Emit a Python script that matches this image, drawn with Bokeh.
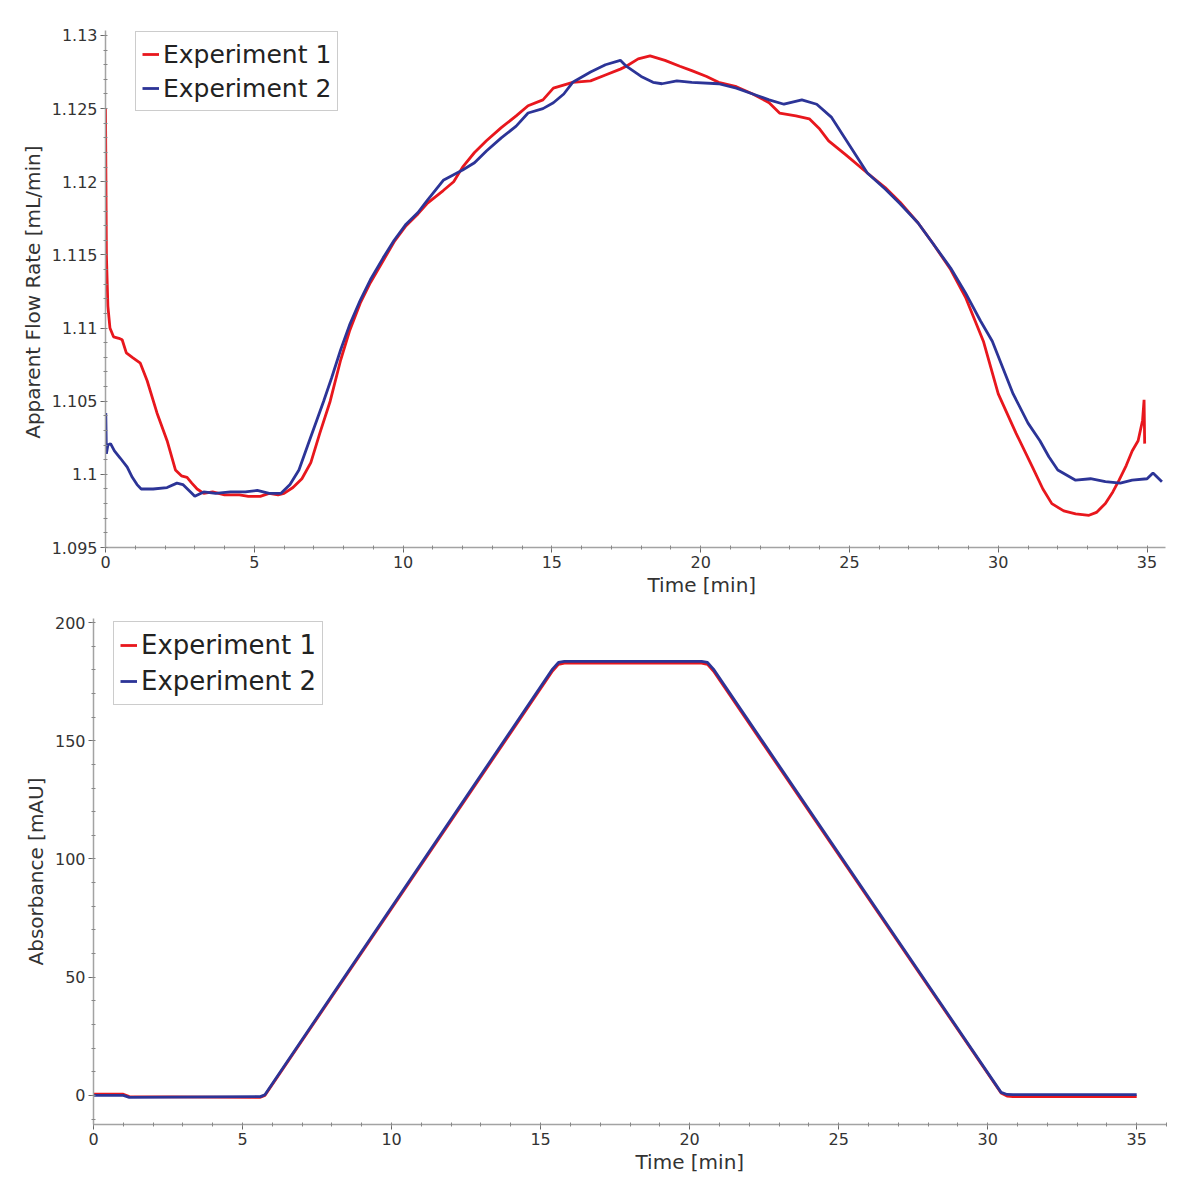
from bokeh.plotting import figure
from bokeh.layouts import column
from bokeh.models import (Range1d, SingleIntervalTicker, CustomJSTickFormatter, Title)
from bokeh.embed import file_html
from bokeh.resources import INLINE

# ---------------- data ----------------
# Top panel: apparent flow rate [mL/min] vs time [min]
t_flow_exp1 = [0.0, 0.03, 0.08, 0.15, 0.27, 0.45, 0.56, 0.7, 0.9, 1.17, 1.4, 1.73, 2.07, 2.35, 2.55,
               2.74, 2.9, 3.08, 3.3, 3.6, 4.0, 4.5, 4.8, 5.2, 5.5, 5.8, 6.0, 6.3, 6.6, 6.9,
               7.2, 7.55, 7.9, 8.2, 8.56, 8.9, 9.33, 9.7, 10.1, 10.5, 10.8, 11.35, 11.7, 12.0, 12.4,
               12.8, 13.3, 13.8, 14.2, 14.7, 15.05, 15.7, 16.3, 16.8, 17.3, 17.5, 17.9, 18.3, 18.8, 19.3,
               19.7, 20.2, 20.6, 21.2, 21.75, 22.3, 22.65, 23.2, 23.65, 24.0, 24.3, 24.9, 25.6, 26.2, 26.7,
               27.3, 27.8, 28.4, 28.9, 29.5, 30.0, 30.6, 31.15, 31.5, 31.8, 32.2, 32.6, 33.05, 33.3, 33.6,
               33.85, 34.06, 34.3, 34.5, 34.7, 34.85, 34.9, 34.92]
flow_exp1 = [1.1250, 1.1150, 1.1115, 1.1100, 1.1094, 1.1093, 1.1092, 1.1083, 1.1080, 1.1076,
             1.1064, 1.1042, 1.1023, 1.1003, 1.0999, 1.0998, 1.0994, 1.0990, 1.0987, 1.0988,
             1.0986, 1.0986, 1.0985, 1.0985, 1.0987, 1.0986, 1.0987, 1.0991, 1.0997, 1.1008,
             1.1028, 1.1050, 1.1078, 1.1098, 1.1117, 1.1131, 1.1146, 1.1159, 1.1170, 1.1178,
             1.1185, 1.1194, 1.1200, 1.1210, 1.1220, 1.1228, 1.1237, 1.1245, 1.1252, 1.1256,
             1.1264, 1.1268, 1.1269, 1.1273, 1.1277, 1.1279, 1.1284, 1.1286, 1.1283, 1.1279,
             1.1276, 1.1272, 1.1268, 1.1265, 1.1260, 1.1254, 1.1247, 1.1245, 1.1243, 1.1236,
             1.1228, 1.1218, 1.1206, 1.1196, 1.1186, 1.1172, 1.1158, 1.1140, 1.1121, 1.1091,
             1.1055, 1.1028, 1.1005, 1.0990, 1.0980, 1.0975, 1.0973, 1.0972, 1.0974, 1.0980,
             1.0988, 1.0996, 1.1006, 1.1016, 1.1023, 1.1037, 1.1051, 1.1021]

t_flow_exp2 = [0.0, 0.01, 0.03, 0.08, 0.17, 0.3, 0.5, 0.73, 0.9, 1.06, 1.2, 1.6, 2.07, 2.4, 2.6,
               2.9, 3.0, 3.3, 3.7, 4.2, 4.7, 5.1, 5.5, 5.9, 6.2, 6.5, 6.8, 7.1, 7.33, 7.6,
               7.9, 8.2, 8.56, 8.9, 9.33, 9.7, 10.1, 10.5, 10.8, 11.35, 12.0, 12.4, 12.8, 13.3, 13.8,
               14.2, 14.7, 15.05, 15.4, 15.7, 16.3, 16.8, 17.3, 17.5, 18.0, 18.4, 18.7, 19.2, 19.7, 20.6,
               21.2, 21.75, 22.3, 22.8, 23.4, 23.9, 24.4, 25.0, 25.6, 26.2, 26.7, 27.3, 27.8, 28.4, 28.9,
               29.4, 29.8, 30.5, 31.0, 31.4, 31.7, 32.0, 32.6, 33.1, 33.6, 34.1, 34.5, 35.0, 35.2, 35.5]
flow_exp2 = [1.1020, 1.1042, 1.1014, 1.1020, 1.1021, 1.1016, 1.1011, 1.1005, 1.0998, 1.0993,
             1.0990, 1.0990, 1.0991, 1.0994, 1.0993, 1.0987, 1.0985, 1.0988, 1.0987, 1.0988,
             1.0988, 1.0989, 1.0987, 1.0987, 1.0993, 1.1003, 1.1020, 1.1037, 1.1050, 1.1066,
             1.1085, 1.1102, 1.1119, 1.1133, 1.1148, 1.1160, 1.1171, 1.1179, 1.1187, 1.1201,
             1.1208, 1.1213, 1.1221, 1.1230, 1.1238, 1.1247, 1.1250, 1.1254, 1.1260, 1.1268,
             1.1275, 1.1280, 1.1283, 1.1279, 1.1272, 1.1268, 1.1267, 1.1269, 1.1268, 1.1267,
             1.1264, 1.1260, 1.1256, 1.1253, 1.1256, 1.1253, 1.1244, 1.1225, 1.1206, 1.1195,
             1.1185, 1.1172, 1.1158, 1.1141, 1.1124, 1.1105, 1.1091, 1.1055, 1.1035, 1.1023,
             1.1012, 1.1003, 1.0996, 1.0997, 1.0995, 1.0994, 1.0996, 1.0997, 1.1001, 1.0995]

# Bottom panel: absorbance [mAU] vs time [min]
t_abs = [0.0, 1.0, 1.2, 5.6, 5.75, 15.4, 15.6, 15.8, 20.4, 20.6, 20.8, 30.45, 30.65, 30.85, 35.0]
abs_exp1 = [0.5, 0.5, -0.5, -0.8, 0.0, 179.5, 182.3, 182.8, 182.8, 182.3, 179.5, 1.0, -0.3, -0.5, -0.5]
abs_exp2 = [0.0, 0.0, -0.8, -0.5, 0.3, 180.3, 183.1, 183.6, 183.6, 183.1, 180.3, 1.3, 0.4, 0.3, 0.3]

series_labels = ["Experiment 1", "Experiment 2"]

# ---------------- style ----------------
RED = "#e8171d"
BLUE = "#2c3497"
FONT = "DejaVu Sans"
AXIS_GRAY = "#a3a3a3"
TEXT = "#333333"


def style(p, y_interval):
    p.xgrid.visible = False
    p.ygrid.visible = False
    p.outline_line_color = None
    p.background_fill_color = "white"
    p.border_fill_color = "white"
    for ax in (p.xaxis[0], p.yaxis[0]):
        ax.axis_line_color = AXIS_GRAY
        ax.axis_line_width = 1.5
        ax.major_tick_line_color = "#666666"
        ax.minor_tick_line_color = "#888888"
        ax.major_tick_out = 5
        ax.major_tick_in = 0
        ax.minor_tick_out = 2
        ax.minor_tick_in = 2
        ax.major_label_text_font = FONT
        ax.major_label_text_font_size = "16px"
        ax.major_label_text_color = TEXT
        ax.major_label_standoff = 3
        ax.axis_label_text_font = FONT
        ax.axis_label_text_font_size = "20px"
        ax.axis_label_text_font_style = "normal"
        ax.axis_label_text_color = TEXT
    p.xaxis[0].ticker = SingleIntervalTicker(interval=5, num_minor_ticks=5)
    p.yaxis[0].ticker = SingleIntervalTicker(interval=y_interval, num_minor_ticks=5)
    p.yaxis[0].axis_label_standoff = 4


def style_legend(p, loc, font_size, glyph_h):
    lg = p.legend[0]
    lg.location = loc
    lg.label_text_font = FONT
    lg.label_text_font_size = font_size
    lg.label_text_color = "#222222"
    lg.border_line_color = "#9a9a9a"
    lg.border_line_width = 1.5
    lg.background_fill_color = "white"
    lg.background_fill_alpha = 1.0
    lg.glyph_width = 17
    lg.glyph_height = glyph_h
    lg.label_height = glyph_h
    lg.label_standoff = 4
    lg.spacing = 2
    lg.padding = 6
    lg.margin = 0


def x_title(p, offset):
    p.add_layout(Title(text="Time [min]", align="left", offset=offset, standoff=0,
                       text_font=FONT, text_font_size="20px", text_font_style="normal",
                       text_color=TEXT), "below")


# ---------------- top figure ----------------
p1 = figure(width=1185, height=599, output_backend="svg", toolbar_location=None,
            x_range=Range1d(0, 35.62), y_range=Range1d(1.095, 1.13034),
            min_border_left=105, min_border_right=20, min_border_top=30, min_border_bottom=52,
            frame_align=False)
style(p1, 0.005)
p1.yaxis[0].axis_label = "Apparent Flow Rate  [mL/min]"
p1.yaxis[0].formatter = CustomJSTickFormatter(code="return String(+tick.toFixed(4));")
p1.line(t_flow_exp1, flow_exp1, color=RED, line_width=2.8, legend_label=series_labels[0])
p1.line(t_flow_exp2, flow_exp2, color=BLUE, line_width=2.8, legend_label=series_labels[1])
style_legend(p1, (30, 436), "25px", 32)
x_title(p1, 542)

# ---------------- bottom figure ----------------
p2 = figure(width=1185, height=575, output_backend="svg", toolbar_location=None,
            x_range=Range1d(0, 36.0), y_range=Range1d(-12.3, 201.7),
            min_border_left=93, min_border_right=19, min_border_top=19, min_border_bottom=50,
            frame_align=False)
style(p2, 50)
p2.yaxis[0].axis_label = "Absorbance [mAU]"
p2.line(t_abs, abs_exp1, color=RED, line_width=2.8, legend_label=series_labels[0])
p2.line(t_abs, abs_exp2, color=BLUE, line_width=2.8, legend_label=series_labels[1])
style_legend(p2, (20, 419), "26px", 34)
x_title(p2, 542)

layout = column(p1, p2, spacing=0)
open("out.html", "w").write(file_html(layout, INLINE))
